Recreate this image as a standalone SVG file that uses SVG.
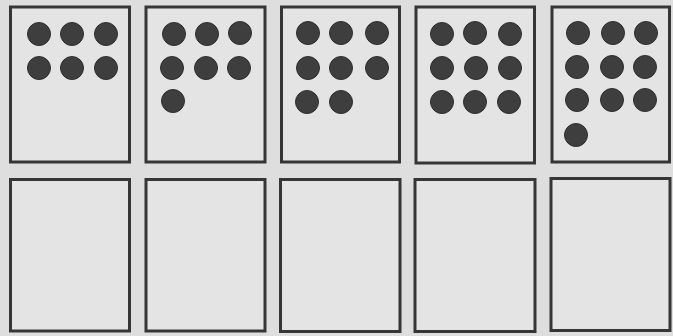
<svg xmlns="http://www.w3.org/2000/svg" width="673" height="336" viewBox="0 0 673 336">
<style>
.card{fill:#e4e4e4;stroke:#363636;stroke-width:3}
.dot{fill:#3e3e3e;stroke:#2e2e2e;stroke-width:1}
</style>
<rect width="673" height="336" fill="#dedede"/>
<g id="card6">
<rect class="card" x="10.5" y="7" width="119" height="155"/>
<circle class="dot" cx="39" cy="34" r="11.5"/><circle class="dot" cx="72" cy="34" r="11.5"/><circle class="dot" cx="106" cy="34" r="11.5"/>
<circle class="dot" cx="39" cy="68" r="11.5"/><circle class="dot" cx="72" cy="68" r="11.5"/><circle class="dot" cx="106" cy="68" r="11.5"/>
</g>
<g id="card7">
<rect class="card" x="146" y="7" width="119" height="155"/>
<circle class="dot" cx="174" cy="34" r="11.5"/><circle class="dot" cx="207" cy="34" r="11.5"/><circle class="dot" cx="240" cy="33" r="11.5"/>
<circle class="dot" cx="172" cy="68" r="11.5"/><circle class="dot" cx="206" cy="68" r="11.5"/><circle class="dot" cx="239" cy="68" r="11.5"/>
<circle class="dot" cx="173" cy="101" r="11.5"/>
</g>
<g id="card8">
<rect class="card" x="281.5" y="7" width="118" height="155"/>
<circle class="dot" cx="308" cy="33" r="11.5"/><circle class="dot" cx="341" cy="33" r="11.5"/><circle class="dot" cx="377" cy="33" r="11.5"/>
<circle class="dot" cx="308" cy="68" r="11.5"/><circle class="dot" cx="341" cy="68" r="11.5"/><circle class="dot" cx="377" cy="68" r="11.5"/>
<circle class="dot" cx="307" cy="102" r="11.5"/><circle class="dot" cx="341" cy="102" r="11.5"/>
</g>
<g id="card9">
<rect class="card" x="416" y="7" width="118.5" height="156"/>
<circle class="dot" cx="442" cy="34" r="11.5"/><circle class="dot" cx="475" cy="33" r="11.5"/><circle class="dot" cx="510" cy="34" r="11.5"/>
<circle class="dot" cx="442" cy="68" r="11.5"/><circle class="dot" cx="476" cy="68" r="11.5"/><circle class="dot" cx="510" cy="68" r="11.5"/>
<circle class="dot" cx="442" cy="102" r="11.5"/><circle class="dot" cx="475" cy="102" r="11.5"/><circle class="dot" cx="509" cy="102" r="11.5"/>
</g>
<g id="card10">
<rect class="card" x="552" y="7" width="117.5" height="155"/>
<circle class="dot" cx="578" cy="33" r="11.5"/><circle class="dot" cx="613" cy="33" r="11.5"/><circle class="dot" cx="646" cy="33" r="11.5"/>
<circle class="dot" cx="577" cy="67" r="11.5"/><circle class="dot" cx="612" cy="67" r="11.5"/><circle class="dot" cx="645" cy="67" r="11.5"/>
<circle class="dot" cx="577" cy="100" r="11.5"/><circle class="dot" cx="612" cy="100" r="11.5"/><circle class="dot" cx="645" cy="100" r="11.5"/>
<circle class="dot" cx="576" cy="135" r="11.5"/>
</g>
<g id="blank1"><rect class="card" x="10.5" y="179.5" width="119" height="151.5"/></g>
<g id="blank2"><rect class="card" x="146" y="179.5" width="119" height="151.5"/></g>
<g id="blank3"><rect class="card" x="280.5" y="179.5" width="119.5" height="152"/></g>
<g id="blank4"><rect class="card" x="415" y="179.5" width="120" height="152"/></g>
<g id="blank5"><rect class="card" x="551" y="178.5" width="119" height="152"/></g>
<g id="connectors"/>
</svg>
